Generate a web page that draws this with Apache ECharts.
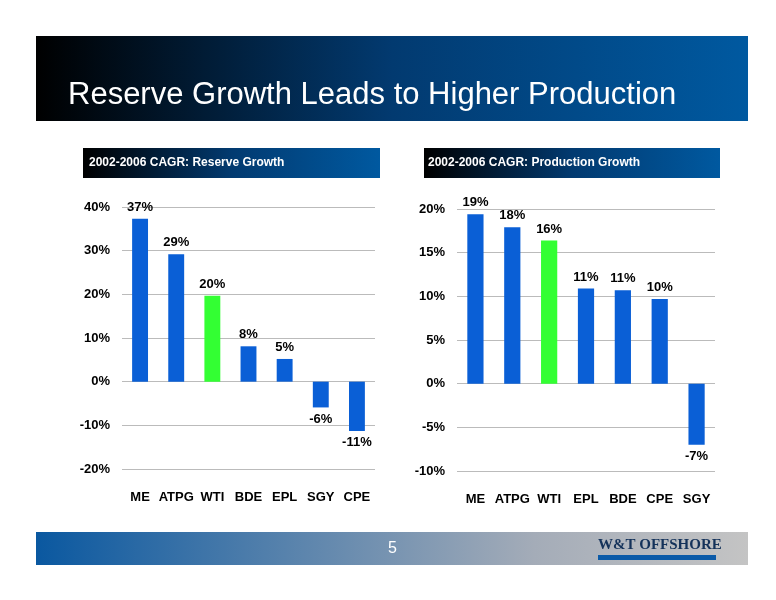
<!DOCTYPE html><html><head><meta charset="utf-8">
<script src="https://cdn.jsdelivr.net/npm/echarts@6/dist/echarts.min.js"></script>
<style>html,body{margin:0;background:#fff}#c{width:776px;height:600px}</style></head><body><div id="c"></div>
<script>
const reserveCats=['ME','ATPG','WTI','BDE','EPL','SGY','CPE'];
const reserveVals=[37.3,29.2,19.7,8.1,5.2,-5.9,-11.3];
const prodCats=['ME','ATPG','WTI','EPL','BDE','CPE','SGY'];
const prodVals=[19.4,17.9,16.4,10.9,10.7,9.7,-7.0];
const highlight='WTI';
const F='"Liberation Sans", Arial, sans-serif';
const chart=echarts.init(document.getElementById('c'));
function grad(stops){return new echarts.graphic.LinearGradient(0,0,1,0,stops);}
function dataFor(cats,vals){return vals.map((v,i)=>({value:v,itemStyle:{color:cats[i]===highlight?'#33ff33':'#0a5fd6'},label:{position:v<0?'bottom':'top'}}));}
function yAxis(idx,min,max,interval){return {gridIndex:idx,min,max,interval,axisLine:{show:false},axisTick:{show:false},
 splitLine:{lineStyle:{color:'#bbb'}},axisLabel:{formatter:v=>v+'%',color:'#000',fontWeight:'bold',fontSize:13,fontFamily:F,margin:12}};}
function xAxis(idx,cats){return {gridIndex:idx,type:'category',data:cats,position:'bottom',axisLine:{show:false},axisTick:{show:false},
 axisLabel:{color:'#000',fontWeight:'bold',fontSize:13,fontFamily:F,margin:0,interval:0}};}
chart.setOption({
 animation:false,
 graphic:[
  {type:'rect',shape:{x:36,y:36,width:712,height:85},style:{fill:grad([{offset:0,color:'#000'},{offset:0.5,color:'#023a70'},{offset:1,color:'#0059a0'}])}},
  {type:'text',left:68,top:80,style:{text:'Reserve Growth Leads to Higher Production',fill:'#fff',font:'31px '+F}},
  {type:'rect',shape:{x:83,y:148,width:297,height:30},style:{fill:grad([{offset:0,color:'#000'},{offset:0.5,color:'#023a70'},{offset:1,color:'#0059a0'}])}},
  {type:'text',left:89,top:157,style:{text:'2002-2006 CAGR: Reserve Growth',fill:'#fff',font:'bold 12px '+F}},
  {type:'rect',shape:{x:424,y:148,width:296,height:30},style:{fill:grad([{offset:0,color:'#000'},{offset:0.5,color:'#023a70'},{offset:1,color:'#0059a0'}])}},
  {type:'text',left:428,top:157,style:{text:'2002-2006 CAGR: Production Growth',fill:'#fff',font:'bold 12px '+F}},
  {type:'rect',shape:{x:36,y:532,width:712,height:33},style:{fill:grad([{offset:0,color:'#0a58a0'},{offset:0.7,color:'#a4acb8'},{offset:1,color:'#c4c4c4'}])}},
  {type:'text',left:388,top:541,style:{text:'5',fill:'#fff',font:'16px '+F}},
  {type:'text',left:598,top:538,style:{text:'W&T OFFSHORE',fill:'#14325a',font:'bold 15px "Liberation Serif", serif'}},
  {type:'rect',shape:{x:598,y:555,width:118,height:5},style:{fill:'#0a5aa8'}}
 ],
 grid:[{left:122,top:207,width:253,height:262},{left:457,top:209,width:258,height:262}],
 xAxis:[Object.assign(xAxis(0,reserveCats),{offset:22}),Object.assign(xAxis(1,prodCats),{offset:22})],
 yAxis:[yAxis(0,-20,40,10),yAxis(1,-10,20,5)],
 series:[
  {type:'bar',xAxisIndex:0,yAxisIndex:0,data:dataFor(reserveCats,reserveVals),barWidth:'44%',
   label:{show:true,formatter:p=>Math.round(p.value)+'%',color:'#000',fontWeight:'bold',fontSize:13,fontFamily:F}},
  {type:'bar',xAxisIndex:1,yAxisIndex:1,data:dataFor(prodCats,prodVals),barWidth:'44%',
   label:{show:true,formatter:p=>Math.round(p.value)+'%',color:'#000',fontWeight:'bold',fontSize:13,fontFamily:F}}
 ]
});
</script></body></html>
